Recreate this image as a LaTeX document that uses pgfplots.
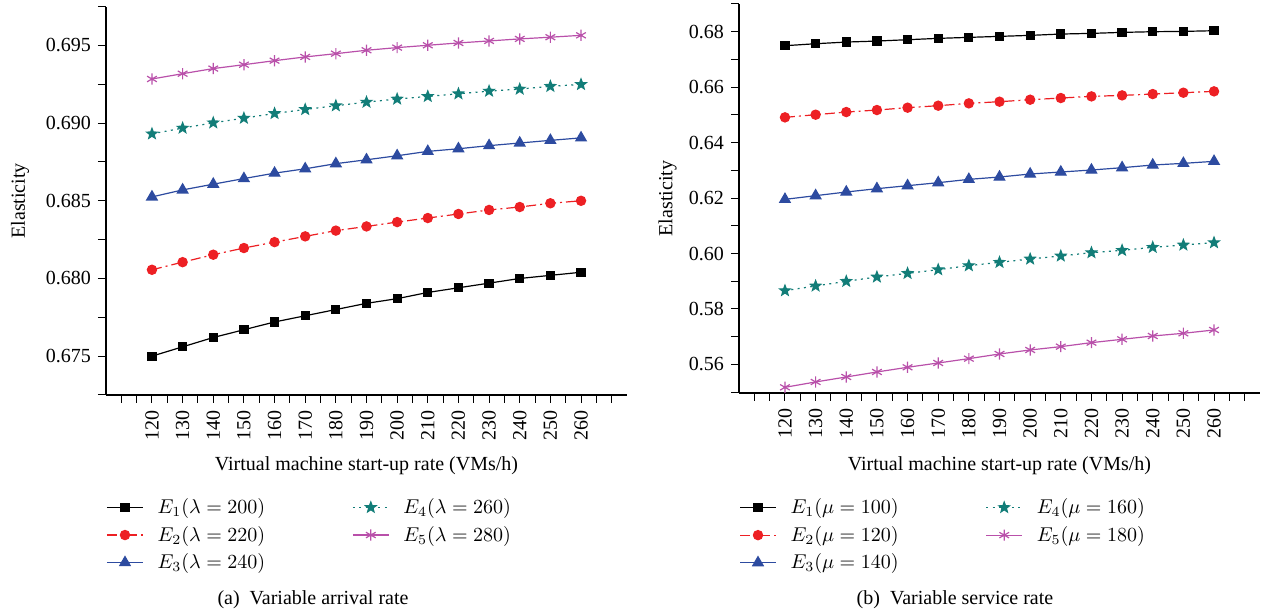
\documentclass[border=0pt]{standalone}
\usepackage{fontspec}
\setmainfont{Liberation Serif}
\usepackage{pgfplots}
\usepackage{pgfplotstable}
\pgfplotsset{compat=1.18}

\definecolor{cE1}{RGB}{0,0,0}
\definecolor{cE2}{RGB}{237,32,36}
\definecolor{cE3}{RGB}{45,75,160}
\definecolor{cE4}{RGB}{18,125,120}
\definecolor{cE5}{RGB}{185,80,170}

% filled five-point star
\pgfdeclareplotmark{fstar}{%
  \pgfpathmoveto{\pgfpointpolar{90}{\pgfplotmarksize}}%
  \pgfpathlineto{\pgfpointpolar{126}{0.42\pgfplotmarksize}}%
  \pgfpathlineto{\pgfpointpolar{162}{\pgfplotmarksize}}%
  \pgfpathlineto{\pgfpointpolar{198}{0.42\pgfplotmarksize}}%
  \pgfpathlineto{\pgfpointpolar{234}{\pgfplotmarksize}}%
  \pgfpathlineto{\pgfpointpolar{270}{0.42\pgfplotmarksize}}%
  \pgfpathlineto{\pgfpointpolar{306}{\pgfplotmarksize}}%
  \pgfpathlineto{\pgfpointpolar{342}{0.42\pgfplotmarksize}}%
  \pgfpathlineto{\pgfpointpolar{18}{\pgfplotmarksize}}%
  \pgfpathlineto{\pgfpointpolar{54}{0.42\pgfplotmarksize}}%
  \pgfpathclose\pgfusepathqfillstroke}

% left panel: variable arrival rate
\pgfplotstableread{
x   e1      e2      e3      e4      e5
120 0.67500 0.68056 0.68525 0.68931 0.69284
130 0.67560 0.68105 0.68570 0.68968 0.69318
140 0.67620 0.68153 0.68607 0.69002 0.69351
150 0.67670 0.68196 0.68643 0.69032 0.69376
160 0.67720 0.68234 0.68678 0.69062 0.69402
170 0.67760 0.68271 0.68706 0.69088 0.69426
180 0.67800 0.68308 0.68739 0.69112 0.69447
190 0.67840 0.68335 0.68764 0.69135 0.69469
200 0.67870 0.68363 0.68790 0.69155 0.69486
210 0.67910 0.68389 0.68818 0.69172 0.69501
220 0.67940 0.68415 0.68835 0.69189 0.69516
230 0.67970 0.68441 0.68855 0.69206 0.69529
240 0.68000 0.68460 0.68872 0.69219 0.69542
250 0.68020 0.68484 0.68889 0.69237 0.69553
260 0.68040 0.68500 0.68905 0.69249 0.69565
}\arrival

% right panel: variable service rate
\pgfplotstableread{
x   e1      e2      e3      e4      e5
120 0.67495 0.64911 0.61954 0.58661 0.55175
130 0.67567 0.65007 0.62087 0.58829 0.55368
140 0.67627 0.65103 0.62219 0.58998 0.55548
150 0.67663 0.65175 0.62339 0.59154 0.55728
160 0.67712 0.65260 0.62447 0.59286 0.55897
170 0.67760 0.65332 0.62555 0.59418 0.56053
180 0.67796 0.65416 0.62675 0.59563 0.56209
190 0.67832 0.65476 0.62760 0.59683 0.56377
200 0.67868 0.65548 0.62868 0.59803 0.56522
210 0.67916 0.65608 0.62940 0.59912 0.56642
220 0.67940 0.65668 0.63012 0.60032 0.56786
230 0.67976 0.65704 0.63096 0.60115 0.56906
240 0.68000 0.65752 0.63192 0.60224 0.57026
250 0.68012 0.65800 0.63252 0.60308 0.57123
260 0.68036 0.65849 0.63325 0.60392 0.57243
}\service

\pgfplotsset{
  panel/.style={
    scale only axis,
    width=260.5pt,
    axis x line*=bottom, axis y line*=left,
    axis line style={line width=0.6pt},
    tick align=outside,
    tick style={black, line width=0.5pt},
    major tick length=4pt, minor tick length=4pt,
    xmin=105, xmax=275,
    xtick={120,130,...,260},
    minor xtick={110,115,...,270},
    x tick label style={rotate=90, anchor=east, font=\fontsize{10}{12}\selectfont},
    y tick label style={font=\fontsize{10}{12}\selectfont},
    /pgf/number format/assume math mode=true,
    xlabel={Virtual machine start-up rate (VMs/h)},
    ylabel={Elasticity},
    label style={font=\fontsize{10}{12}\selectfont},
    every axis plot/.append style={line width=0.6pt},
    legend columns=2,
    legend cell align=left,
    legend image code/.code={%
      \draw[mark repeat=2,mark phase=2] plot coordinates {(0pt,0pt) (9pt,0pt) (18pt,0pt)};},
    legend style={draw=none, fill=none, anchor=north west,
      font=\fontsize{10}{12}\selectfont,
      row sep=0.8pt, inner sep=0pt,
      /tikz/column 1/.style={column sep=5pt},
      /tikz/column 2/.style={column sep=41.5pt},
      /tikz/column 3/.style={column sep=5pt}},
  },
  sE1/.style={color=cE1, solid, mark=square*, mark size=2pt},
  sE2/.style={color=cE2, dash pattern=on 5pt off 2pt on 1pt off 2pt, mark=*, mark size=2.3pt, mark options={solid}},
  sE3/.style={color=cE3, solid, mark=triangle*, mark size=3pt},
  sE4/.style={color=cE4, dash pattern=on 1pt off 2.2pt, mark=fstar, mark size=2.7pt, mark options={solid}},
  sE5/.style={color=cE5, solid, mark=asterisk, mark size=2.8pt},
}

\begin{document}
\begin{tikzpicture}
\path[use as bounding box] (0,0) rectangle (632.5pt,307pt);

% ===== (a) Variable arrival rate =====
% plots go in legend order (rows filled first): E1, E4, E2, E5, E3
\begin{axis}[panel,
    at={(53pt,109.5pt)}, anchor=south west,
    height=194.2pt,
    ymin=0.6725, ymax=0.6975,
    ytick={0.675,0.680,...,0.696},
    minor ytick={0.6725,0.6775,...,0.6976},
    yticklabel style={/pgf/number format/.cd, fixed, fixed zerofill, precision=3},
    xlabel style={at={(axis description cs:0.5,-0.183)}, anchor=center},
    ylabel style={at={(axis description cs:-0.165,0.5)}, anchor=center, rotate=0},
    legend style={at={(axis description cs:0,-0.255)}},
]
\addplot[sE1] table[x=x, y=e1] {\arrival}; \addlegendentry{$E_1(\lambda = 200)$}
\addplot[sE4] table[x=x, y=e4] {\arrival}; \addlegendentry{$E_4(\lambda = 260)$}
\addplot[sE2] table[x=x, y=e2] {\arrival}; \addlegendentry{$E_2(\lambda = 220)$}
\addplot[sE5] table[x=x, y=e5] {\arrival}; \addlegendentry{$E_5(\lambda = 280)$}
\addplot[sE3] table[x=x, y=e3] {\arrival}; \addlegendentry{$E_3(\lambda = 240)$}
\end{axis}

% ===== (b) Variable service rate =====
\begin{axis}[panel,
    at={(369.5pt,110.5pt)}, anchor=south west,
    height=194.5pt,
    ymin=0.5497, ymax=0.69,
    ytick={0.56,0.58,...,0.681},
    minor ytick={0.55,0.57,...,0.691},
    yticklabel style={/pgf/number format/.cd, fixed, fixed zerofill, precision=2},
    xlabel style={at={(axis description cs:0.5,-0.188)}, anchor=center},
    ylabel style={at={(axis description cs:-0.137,0.5)}, anchor=center, rotate=0},
    legend style={at={(axis description cs:0,-0.26)}},
]
\addplot[sE1] table[x=x, y=e1] {\service}; \addlegendentry{$E_1(\mu = 100)$}
\addplot[sE4] table[x=x, y=e4] {\service}; \addlegendentry{$E_4(\mu = 160)$}
\addplot[sE2] table[x=x, y=e2] {\service}; \addlegendentry{$E_2(\mu = 120)$}
\addplot[sE5] table[x=x, y=e5] {\service}; \addlegendentry{$E_5(\mu = 180)$}
\addplot[sE3] table[x=x, y=e3] {\service}; \addlegendentry{$E_3(\mu = 140)$}
\end{axis}

\node[font=\fontsize{10}{12}\selectfont] at (156.5pt,7pt) {(a)\enspace Variable arrival rate};
\node[font=\fontsize{10}{12}\selectfont] at (477.5pt,7pt) {(b)\enspace Variable service rate};
\end{tikzpicture}
\end{document}
